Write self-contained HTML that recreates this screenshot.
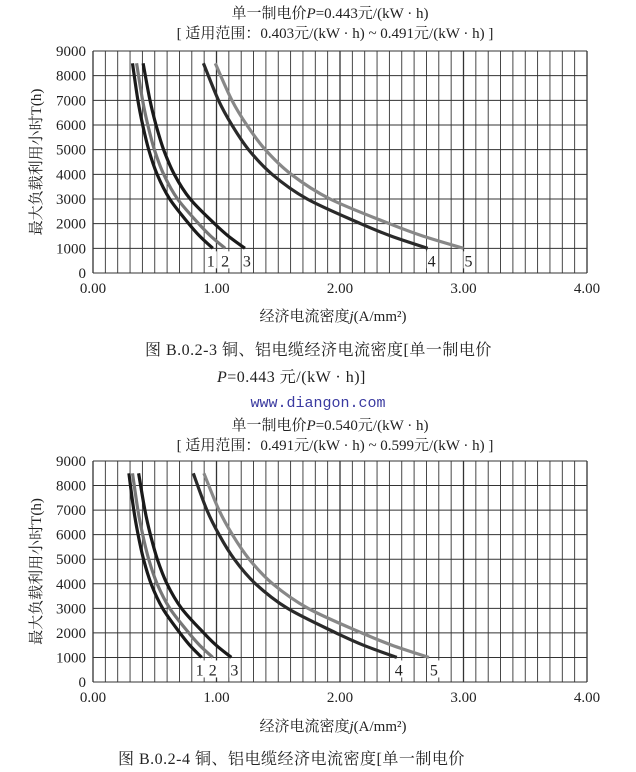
<!DOCTYPE html>
<html><head><meta charset="utf-8"><style>
html,body{margin:0;padding:0;background:#fff;width:636px;height:772px;overflow:hidden}
svg text{font-family:"Liberation Serif","Noto Serif CJK SC",serif;fill:#222}
</style></head><body>
<svg id="s" width="636" height="772" viewBox="0 0 636 772" xmlns="http://www.w3.org/2000/svg">
<text x="330" y="18" font-size="15" text-anchor="middle">单一制电价<tspan font-style="italic">P</tspan>=0.443元/(kW · h)</text>
<text x="335" y="38" font-size="15" text-anchor="middle">[ 适用范围：0.403元/(kW · h) ~ 0.491元/(kW · h) ]</text>
<text x="333" y="321" font-size="15" text-anchor="middle">经济电流密度<tspan font-style="italic">j</tspan>(A/mm²)</text>
<text x="145" y="355" font-size="16" letter-spacing="0.5">图 B.0.2-3  铜、铝电缆经济电流密度[单一制电价</text>
<text x="217" y="382" font-size="16" letter-spacing="0.5"><tspan font-style="italic">P</tspan>=0.443 元/(kW · h)]</text>
<text x="318" y="407" font-size="15" text-anchor="middle" style="font-family:'Liberation Mono',monospace;fill:#3a3aa0">www.diangon.com</text>
<text x="330" y="430" font-size="15" text-anchor="middle">单一制电价<tspan font-style="italic">P</tspan>=0.540元/(kW · h)</text>
<text x="335" y="450" font-size="15" text-anchor="middle">[ 适用范围：0.491元/(kW · h) ~ 0.599元/(kW · h) ]</text>
<text x="333" y="731" font-size="15" text-anchor="middle">经济电流密度<tspan font-style="italic">j</tspan>(A/mm²)</text>
<text x="118" y="764" font-size="16" letter-spacing="0.5">图 B.0.2-4   铜、铝电缆经济电流密度[单一制电价</text>
</svg>
<script>
var s=document.getElementById('s'),NS='http://www.w3.org/2000/svg';
function el(t,a,txt){var e=document.createElementNS(NS,t);for(var k in a)e.setAttribute(k,a[k]);if(txt!=null)e.textContent=txt;s.appendChild(e);return e;}
var TT=[8500,7000,6000,5000,4000,3000,2000,1500,1000],FF=[0.33,0.375,0.415,0.465,0.535,0.64,0.80,0.89,1];
function chart(top,bot,curves){
 var L=93,R=587;
 function X(j){return L+(R-L)*j/4}
 function Y(t){return bot-(bot-top)*t/9000}
 for(var i=0;i<=40;i++){var x=X(i*0.1);el('line',{x1:x,y1:top,x2:x,y2:bot,stroke:'#333','stroke-width':i%10==0?1.3:0.9});}
 for(var t=0;t<=9000;t+=1000){el('line',{x1:L,y1:Y(t),x2:R,y2:Y(t),stroke:'#333','stroke-width':1});
  el('text',{x:L-7,y:Y(t)+5,'font-size':15,'text-anchor':'end'},String(t));}
 for(var k=0;k<=4;k++)el('text',{x:X(k),y:bot+20,'font-size':15,'text-anchor':'middle'},k+'.00');
 el('text',{transform:'translate(41,'+((top+bot)/2)+') rotate(-90)','font-size':15,'text-anchor':'middle'},'最大负载利用小时T(h)');
 curves.forEach(function(c,n){
  var P=TT.map(function(t,i){return [X(c[1]*FF[i]),Y(t)];});
  var d='M'+P[0][0].toFixed(1)+','+P[0][1].toFixed(1);
  for(var i=0;i<P.length-1;i++){
   var p0=P[Math.max(0,i-1)],p1=P[i],p2=P[i+1],p3=P[Math.min(P.length-1,i+2)];
   var c1=[p1[0]+(p2[0]-p0[0])/6,p1[1]+(p2[1]-p0[1])/6],c2=[p2[0]-(p3[0]-p1[0])/6,p2[1]-(p3[1]-p1[1])/6];
   d+='C'+c1[0].toFixed(1)+','+c1[1].toFixed(1)+' '+c2[0].toFixed(1)+','+c2[1].toFixed(1)+' '+p2[0].toFixed(1)+','+p2[1].toFixed(1);
  }
  el('path',{d:d,fill:'none',stroke:c[0],'stroke-width':3.2,'stroke-linejoin':'round'});
  var lx=X(c[1])+c[3];
  el('rect',{x:lx-5,y:Y(1000)+3,width:11,height:17,fill:'#fff'});
  el('text',{x:lx,y:Y(1000)+18,'font-size':16,'text-anchor':'middle'},String(n+1));
 });
}
chart(51,273,[['#1a1a1a',0.97,0,-2],['#777',1.07,0,0],['#1a1a1a',1.23,0,2],['#2a2a2a',2.71,0,4],['#888',3.0,0,5]]);
chart(461,682,[['#1a1a1a',0.88,0,-2],['#777',0.97,0,0],['#1a1a1a',1.12,0,3],['#2a2a2a',2.46,0,2],['#888',2.72,0,5]]);
</script>
</body></html>
